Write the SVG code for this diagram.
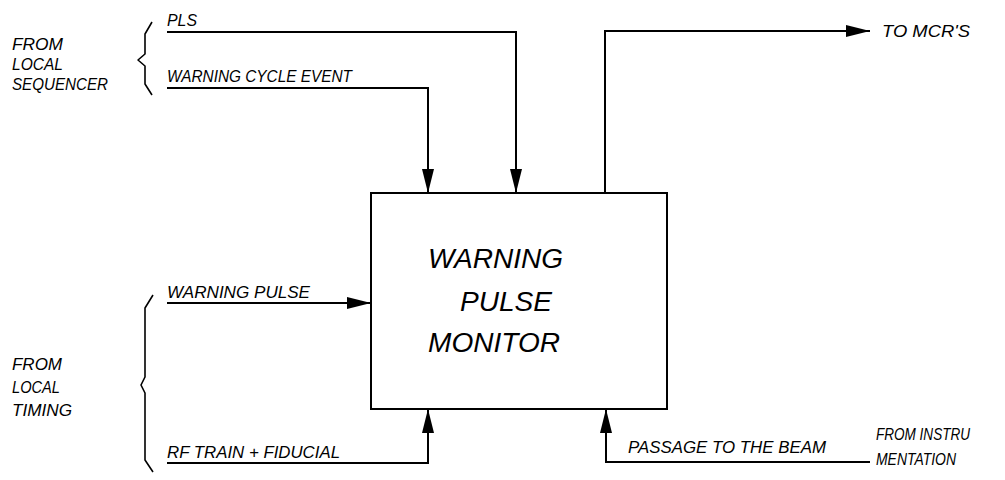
<svg xmlns="http://www.w3.org/2000/svg" width="1005" height="480" viewBox="0 0 1005 480">
<style>
.t{font-family:"Liberation Sans",Arial,sans-serif;font-style:italic;font-size:16px;fill:#000}
.b{font-family:"Liberation Sans",Arial,sans-serif;font-style:italic;font-size:27px;fill:#000}
.ln{fill:none;stroke:#000;stroke-width:2}
.br{fill:none;stroke:#000;stroke-width:1.6;stroke-linejoin:round}
</style>
<defs>
<marker id="ah" viewBox="0 0 24 12" refX="24" refY="6" markerWidth="24" markerHeight="12" markerUnits="userSpaceOnUse" orient="auto">
<path d="M0,0 L24,6 L0,12 Z" fill="#000"/>
</marker>
</defs>
<rect width="1005" height="480" fill="#fff"/>
<g id="node-monitor">
<rect x="371" y="193" width="296" height="216" class="ln"/>
<text class="b" x="428" y="268" textLength="135" lengthAdjust="spacingAndGlyphs">WARNING</text>
<text class="b" x="460" y="311" textLength="92" lengthAdjust="spacingAndGlyphs">PULSE</text>
<text class="b" x="428" y="352" textLength="132" lengthAdjust="spacingAndGlyphs">MONITOR</text>
</g>
<g id="node-sequencer">
<path class="br" d="M152,22 L145,34 L145,54 L138,60 L145,66 L145,84 L152,95"/>
<text class="t" x="12" y="50" textLength="51" lengthAdjust="spacingAndGlyphs">FROM</text>
<text class="t" x="12" y="70" textLength="51" lengthAdjust="spacingAndGlyphs">LOCAL</text>
<text class="t" x="12" y="90" textLength="96" lengthAdjust="spacingAndGlyphs">SEQUENCER</text>
</g>
<g id="node-timing">
<path class="br" d="M153,295 L145,308 L145,377 L141,385 L145,393 L145,460 L153,472"/>
<text class="t" x="12" y="370" textLength="50" lengthAdjust="spacingAndGlyphs">FROM</text>
<text class="t" x="12" y="393" textLength="48" lengthAdjust="spacingAndGlyphs">LOCAL</text>
<text class="t" x="12" y="416" textLength="60" lengthAdjust="spacingAndGlyphs">TIMING</text>
</g>
<g id="node-mcr">
<text class="t" x="882" y="37" textLength="88" lengthAdjust="spacingAndGlyphs">TO MCR'S</text>
</g>
<g id="node-instrumentation">
<text class="t" x="876" y="440" textLength="94" lengthAdjust="spacingAndGlyphs">FROM INSTRU</text>
<text class="t" x="876" y="465" textLength="80" lengthAdjust="spacingAndGlyphs">MENTATION</text>
</g>
<g id="connectors">
<polyline class="ln" points="167,32 516,32 516,193" marker-end="url(#ah)"/>
<text class="t" x="167" y="26" textLength="30" lengthAdjust="spacingAndGlyphs">PLS</text>
<polyline class="ln" points="167,88 428,88 428,193" marker-end="url(#ah)"/>
<text class="t" x="167" y="82" textLength="185" lengthAdjust="spacingAndGlyphs">WARNING CYCLE EVENT</text>
<polyline class="ln" points="605,193 605,31 870,31" marker-end="url(#ah)"/>
<polyline class="ln" points="167,303 371,303" marker-end="url(#ah)"/>
<text class="t" x="167" y="298" textLength="143" lengthAdjust="spacingAndGlyphs">WARNING  PULSE</text>
<polyline class="ln" points="167,463 428,463 428,409" marker-end="url(#ah)"/>
<text class="t" x="167" y="458" textLength="173" lengthAdjust="spacingAndGlyphs">RF TRAIN + FIDUCIAL</text>
<polyline class="ln" points="870,462 606,462 606,409" marker-end="url(#ah)"/>
<text class="t" x="628" y="453" textLength="198" lengthAdjust="spacingAndGlyphs">PASSAGE  TO THE BEAM</text>
</g>
</svg>
